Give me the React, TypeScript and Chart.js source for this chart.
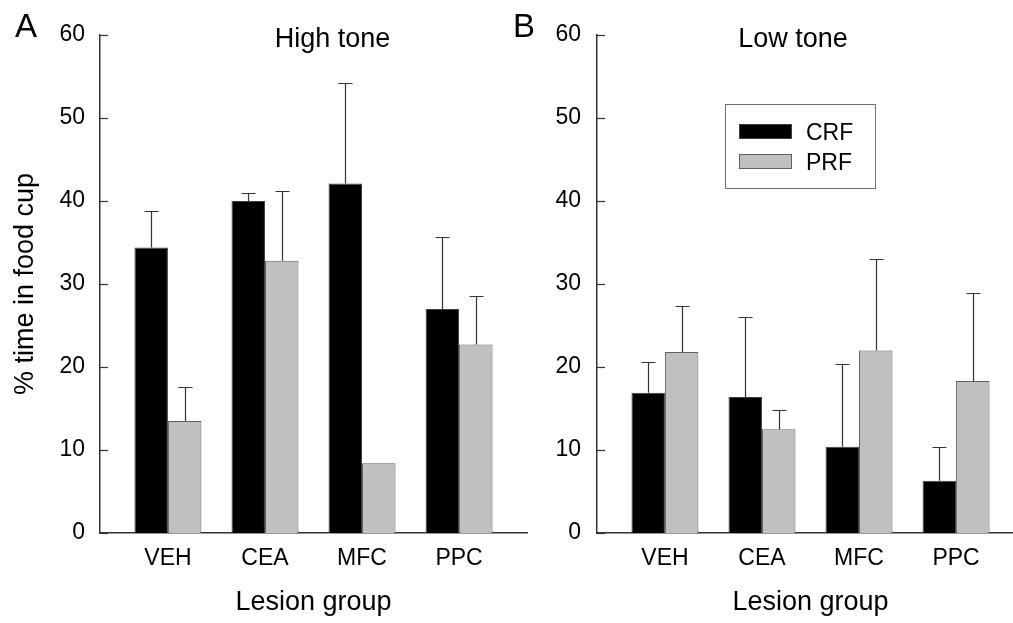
import React, { useEffect, useRef } from 'react';
import { Chart, registerables } from 'chart.js';

Chart.register(...registerables);

const FONT = '"Liberation Sans", Arial, Helvetica, sans-serif';

const categories = ['VEH', 'CEA', 'MFC', 'PPC'];
const seriesNames = ['CRF', 'PRF'];
const seriesColors = ['#000000', '#c0c0c0'];
const seriesBorders = ['#404040', '#606060'];

// High tone (panel A): means and upward SEM
const highCRF = [34.4, 40.0, 42.1, 27.0];
const highCRFErr = [4.4, 1.0, 12.1, 8.7];
const highPRF = [13.5, 32.8, 8.4, 22.7];
const highPRFErr = [4.1, 8.4, null, 5.8];

// Low tone (panel B)
const lowCRF = [16.9, 16.4, 10.4, 6.3];
const lowCRFErr = [3.7, 9.6, 10.0, 4.1];
const lowPRF = [21.8, 12.5, 22.0, 18.3];
const lowPRFErr = [5.6, 2.3, 11.0, 10.6];

const yMax = 60;
const yStep = 10;

const yTitle = '% time in food cup';
const xTitle = 'Lesion group';

type PanelProps = {
  left: number;
  letter: string;
  letterX: number;
  title: string;
  titleCx: number;
  crf: number[];
  crfErr: (number | null)[];
  prf: number[];
  prfErr: (number | null)[];
  showYTitle: boolean;
  showLegend: boolean;
  tickPad: number;
};

const W = 540;
const H = 623;

function Panel(p: PanelProps) {
  const ref = useRef<HTMLCanvasElement | null>(null);
  useEffect(() => {
    if (!ref.current) return;
    const values = [p.crf, p.prf];
    const errs = [p.crfErr, p.prfErr];
    const decor = {
      id: 'decor',
      afterDatasetsDraw(chart: any) {
        const ctx = chart.ctx as CanvasRenderingContext2D;
        const ys = chart.scales.y;
        const area = chart.chartArea;
        // error bars
        chart.data.datasets.forEach((ds: any, di: number) => {
          const meta = chart.getDatasetMeta(di);
          meta.data.forEach((el: any, i: number) => {
            const e = ds.errors[i];
            if (e == null) return;
            const v = ds.data[i].y;
            const top = Math.round(ys.getPixelForValue(v + e)) + 0.5;
            const x = Math.round(el.x) + 0.5;
            ctx.save();
            ctx.strokeStyle = '#333';
            ctx.lineWidth = 1.2;
            ctx.beginPath();
            ctx.moveTo(x, el.y);
            ctx.lineTo(x, top);
            ctx.moveTo(x - 7, top);
            ctx.lineTo(x + 7, top);
            ctx.stroke();
            ctx.restore();
          });
        });
        // inward y tick marks
        ctx.save();
        ctx.strokeStyle = '#333';
        ctx.lineWidth = 1.2;
        ys.ticks.forEach((t: any) => {
          const py = Math.round(ys.getPixelForValue(t.value)) + 0.5;
          ctx.beginPath();
          ctx.moveTo(area.left, py);
          ctx.lineTo(area.left + 8, py);
          ctx.stroke();
        });
        ctx.restore();
        // panel title and letter
        ctx.save();
        ctx.fillStyle = '#000';
        ctx.font = `27px ${FONT}`;
        ctx.textAlign = 'center';
        ctx.textBaseline = 'alphabetic';
        ctx.fillText(p.title, p.titleCx - p.left, 46.5);
        ctx.font = `33px ${FONT}`;
        ctx.textAlign = 'left';
        ctx.fillText(p.letter, p.letterX - p.left, 37);
        ctx.restore();
        // legend
        if (p.showLegend) {
          const bx = 725 - p.left;
          const by = 104;
          ctx.save();
          ctx.fillStyle = '#fff';
          ctx.fillRect(bx + 0.5, by + 0.5, 150, 84);
          ctx.strokeStyle = '#707070';
          ctx.lineWidth = 1;
          ctx.strokeRect(bx + 0.5, by + 0.5, 150, 84);
          chart.data.datasets.forEach((ds: any, di: number) => {
            const sy = by + 20 + di * 30;
            ctx.fillStyle = ds.backgroundColor;
            ctx.fillRect(bx + 14, sy, 53, 15);
            ctx.strokeStyle = ds.borderColor;
            ctx.strokeRect(bx + 14.5, sy + 0.5, 52, 14);
            ctx.fillStyle = '#000';
            ctx.font = `23px ${FONT}`;
            ctx.textAlign = 'left';
            ctx.textBaseline = 'alphabetic';
            ctx.fillText(ds.label, bx + 81, sy + 16);
          });
          ctx.restore();
        }
      },
    };
    const chart = new Chart(ref.current, {
      type: 'bar',
      data: {
        datasets: seriesNames.map((name, si) => ({
          label: name,
          data: values[si].map((v, i) => ({ x: i + 1, y: v })),
          errors: errs[si],
          backgroundColor: seriesColors[si],
          borderColor: seriesBorders[si],
          borderWidth: 1,
          categoryPercentage: 0.69,
          barPercentage: 1,
        })) as any,
      },
      options: {
        animation: false,
        responsive: false,
        layout: { padding: { left: 0, right: 13, top: 35, bottom: 0 } },
        plugins: { legend: { display: false }, tooltip: { enabled: false } },
        scales: {
          x: {
            type: 'linear',
            min: 0.3,
            max: 4.7,
            offset: false,
            afterFit(scale: any) {
              scale.height = 90;
            },
            ticks: {
              stepSize: 1,
              includeBounds: false,
              autoSkip: false,
              maxRotation: 0,
              padding: 12,
              color: '#000',
              font: { family: FONT, size: 23 },
              callback: (v: any) => categories[Number(v) - 1] ?? '',
            },
            grid: { display: false, drawTicks: false, offset: false },
            border: { display: true, color: '#333', width: 1.5 },
            title: {
              display: true,
              text: xTitle,
              color: '#000',
              font: { family: FONT, size: 27 },
              padding: { top: 0, bottom: 4 },
            },
          },
          y: {
            type: 'linear',
            min: 0,
            max: yMax,
            afterFit(scale: any) {
              scale.width = 100;
            },
            ticks: {
              stepSize: yStep,
              padding: p.tickPad,
              color: '#000',
              font: { family: FONT, size: 23 },
            },
            grid: { display: false, drawTicks: false },
            border: { display: true, color: '#333', width: 1.5 },
            title: {
              display: p.showYTitle,
              text: yTitle,
              color: '#000',
              font: { family: FONT, size: 27 },
              padding: { top: 9, bottom: 0 },
            },
          },
        },
      } as any,
      plugins: [decor],
    });
    return () => chart.destroy();
  }, []);
  return (
    <canvas
      ref={ref}
      width={W}
      height={H}
      style={{ position: 'absolute', left: p.left, top: 0, width: W, height: H }}
    />
  );
}

export default function App() {
  return (
    <div
      style={{
        position: 'fixed',
        left: 0,
        top: 0,
        width: 1013,
        height: 623,
        overflow: 'hidden',
        background: '#fff',
      }}
    >
      <Panel
        left={0}
        letter="A"
        letterX={15}
        title="High tone"
        titleCx={332.5}
        crf={highCRF}
        crfErr={highCRFErr}
        prf={highPRF}
        prfErr={highPRFErr}
        showYTitle={true}
        showLegend={false}
        tickPad={15}
      />
      <Panel
        left={497}
        letter="B"
        letterX={513}
        title="Low tone"
        titleCx={793}
        crf={lowCRF}
        crfErr={lowCRFErr}
        prf={lowPRF}
        prfErr={lowPRFErr}
        showYTitle={false}
        showLegend={true}
        tickPad={16}
      />
    </div>
  );
}
